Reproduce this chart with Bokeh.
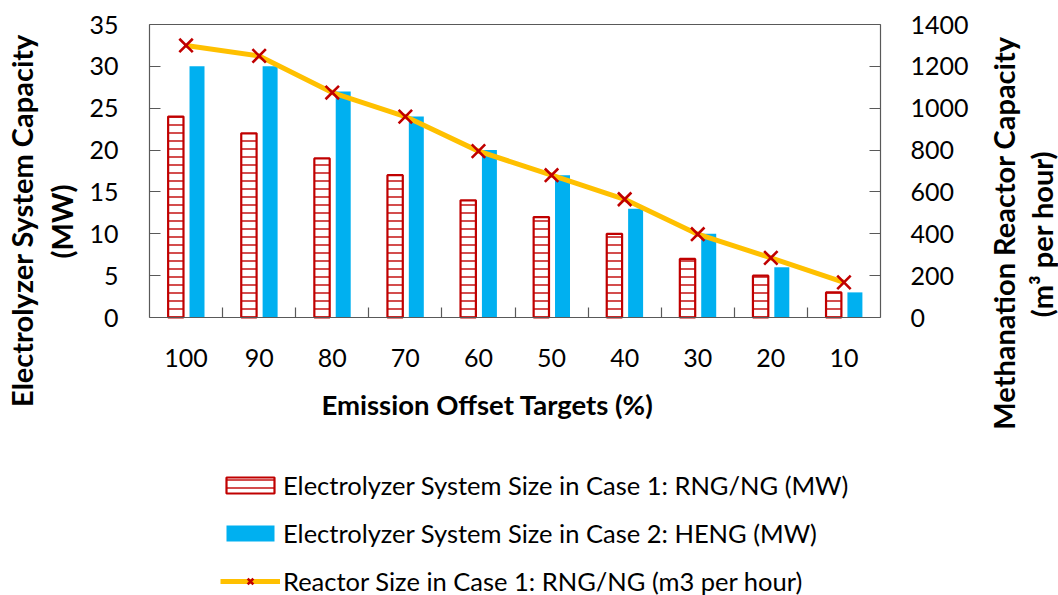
import numpy as np
from bokeh.plotting import figure
from bokeh.models import (Range1d, LinearAxis, FixedTicker, Legend, LegendItem,
                          Label, ColumnDataSource)
from bokeh.embed import file_html
from bokeh.resources import INLINE

# Emission offset targets (%) and sizing results
targets = ["100", "90", "80", "70", "60", "50", "40", "30", "20", "10"]
case1_electrolyzer_mw = [24, 22, 19, 17, 14, 12, 10, 7, 5, 3]
case2_electrolyzer_mw = [30, 30, 27, 24, 20, 17, 13, 10, 6, 3]
case1_reactor_m3h = [1300, 1250, 1075, 960, 795, 680, 565, 398, 285, 168]

left_ticks = [0, 5, 10, 15, 20, 25, 30, 35]
right_ticks = [0, 200, 400, 600, 800, 1000, 1200, 1400]
MW_MAX, M3H_MAX = 35, 1400

RED = "#C00000"
BLUE = "#00B0F0"
GOLD = "#FFC000"
AXIS = "#595959"
FONT = "Lato"

# Page geometry (pixels): the data area sits inside a full-page frame so that
# the titles and legend around it can be drawn without being clipped.
W, H = 1058, 595
AREA_L, AREA_R, AREA_T, AREA_B = 149, 880, 24, 317

n = len(targets)
px_cat = (AREA_R - AREA_L) / n
px_mw = (AREA_B - AREA_T) / MW_MAX
px_m3h = (AREA_B - AREA_T) / M3H_MAX

x_range = Range1d(-0.5 - AREA_L / px_cat, n - 0.5 + (W - AREA_R) / px_cat)
y_range = Range1d(-(H - AREA_B) / px_mw, MW_MAX + AREA_T / px_mw)
y2_range = Range1d(-(H - AREA_B) / px_m3h, M3H_MAX + AREA_T / px_m3h)

pos = np.arange(n)
src = ColumnDataSource(dict(
    x=pos,
    x1=pos - 0.14,
    x2=pos + 0.15,
    c1=case1_electrolyzer_mw,
    c2=case2_electrolyzer_mw,
    r1=case1_reactor_m3h,
))

p = figure(width=W, height=H, output_backend="svg", toolbar_location=None,
           x_range=x_range, y_range=y_range, min_border=0)
p.extra_y_ranges = {"reactor": y2_range}
p.xgrid.visible = False
p.ygrid.visible = False
p.outline_line_color = None
p.background_fill_color = "white"
p.border_fill_color = "white"

bar1 = p.vbar(x="x1", top="c1", width=0.21, source=src, fill_color="white",
              line_color=RED, line_width=2.2, hatch_pattern="-",
              hatch_color=RED, hatch_scale=8, hatch_weight=1.4)
bar2 = p.vbar(x="x2", top="c2", width=0.205, source=src, fill_color=BLUE,
              line_color=None)

ln = p.line(x="x", y="r1", source=src, line_color=GOLD, line_width=5,
            y_range_name="reactor")
mk = p.scatter(x="x", y="r1", source=src, marker="x", size=19,
               line_color=RED, line_width=2.6, y_range_name="reactor")

def style_axis(ax, standoff):
    ax.axis_line_color = AXIS
    ax.axis_line_width = 1.2
    ax.major_tick_line_color = AXIS
    ax.major_tick_line_width = 1.2
    ax.minor_tick_line_color = AXIS
    ax.minor_tick_line_width = 1.2
    ax.major_label_standoff = standoff
    ax.major_label_text_font = FONT
    ax.major_label_text_font_size = "25px"
    ax.major_label_text_color = "black"

# Category axis along the zero line, ticks between categories
xa = p.xaxis[0]
xa.fixed_location = 0
xa.bounds = (-0.5, n - 0.5)
xa.ticker = FixedTicker(ticks=list(pos),
                        minor_ticks=list(np.arange(0.5, n - 1, 1.0)))
xa.major_label_overrides = {int(i): t for i, t in enumerate(targets)}
xa.major_tick_in = 0
xa.major_tick_out = 0
xa.minor_tick_in = 10
xa.minor_tick_out = 0
style_axis(xa, 31)

# Left axis: electrolyzer capacity (MW)
ya = p.yaxis[0]
ya.fixed_location = -0.5
ya.bounds = (0, MW_MAX)
ya.ticker = FixedTicker(ticks=left_ticks)
ya.major_tick_in = 11
ya.major_tick_out = 0
style_axis(ya, 31)
ya.minor_tick_line_color = None

# Right axis: methanation reactor capacity
ra = LinearAxis(y_range_name="reactor", ticker=FixedTicker(ticks=right_ticks),
                fixed_location=n - 0.5, bounds=(0, M3H_MAX))
ra.major_tick_in = 11
ra.major_tick_out = 0
style_axis(ra, 30)
ra.minor_tick_line_color = None
p.add_layout(ra, "right")

# Top edge of the plot area
ta = LinearAxis(ticker=FixedTicker(ticks=[]), fixed_location=MW_MAX,
                bounds=(-0.5, n - 0.5), axis_line_color=AXIS,
                axis_line_width=1.2, major_label_text_alpha=0)
p.add_layout(ta, "above")

# Axis titles
title_style = dict(x_units="screen", y_units="screen", text_font=FONT,
                   text_font_style="bold", text_color="black",
                   text_baseline="alphabetic")
p.add_layout(Label(x=21, y=H - 220, angle=np.pi / 2, text_align="center",
                   text="Electrolyzer System Capacity", text_font_size="29px",
                   **title_style))
p.add_layout(Label(x=61, y=H - 221, angle=np.pi / 2, text_align="center",
                   text="(MW)", text_font_size="29px", **title_style))
p.add_layout(Label(x=1003, y=H - 232.5, angle=np.pi / 2, text_align="center",
                   text="Methanation Reactor Capacity", text_font_size="29px",
                   **title_style))
p.add_layout(Label(x=1041, y=H - 233.5, angle=np.pi / 2, text_align="center",
                   text="(m\u00b3 per hour)", text_font_size="29px",
                   **title_style))
p.add_layout(Label(x=321, y=H - 404, text_align="left",
                   text="Emission Offset Targets (%)", text_font_size="27.5px",
                   **title_style))

legend = Legend(items=[
    LegendItem(label="Electrolyzer System Size in Case 1: RNG/NG (MW)", renderers=[bar1]),
    LegendItem(label="Electrolyzer System Size in Case 2: HENG (MW)", renderers=[bar2]),
    LegendItem(label="Reactor Size in Case 1: RNG/NG (m3 per hour)", renderers=[ln, mk]),
], location=(220, -1), orientation="vertical", padding=0, margin=0,
    spacing=18, glyph_width=60, glyph_height=20, label_height=20,
    label_standoff=3, label_text_font=FONT, label_text_font_size="25.5px",
    label_text_color="black", border_line_color=None,
    background_fill_alpha=0)
p.add_layout(legend, "center")

open("out.html", "w").write(file_html(p, INLINE))
